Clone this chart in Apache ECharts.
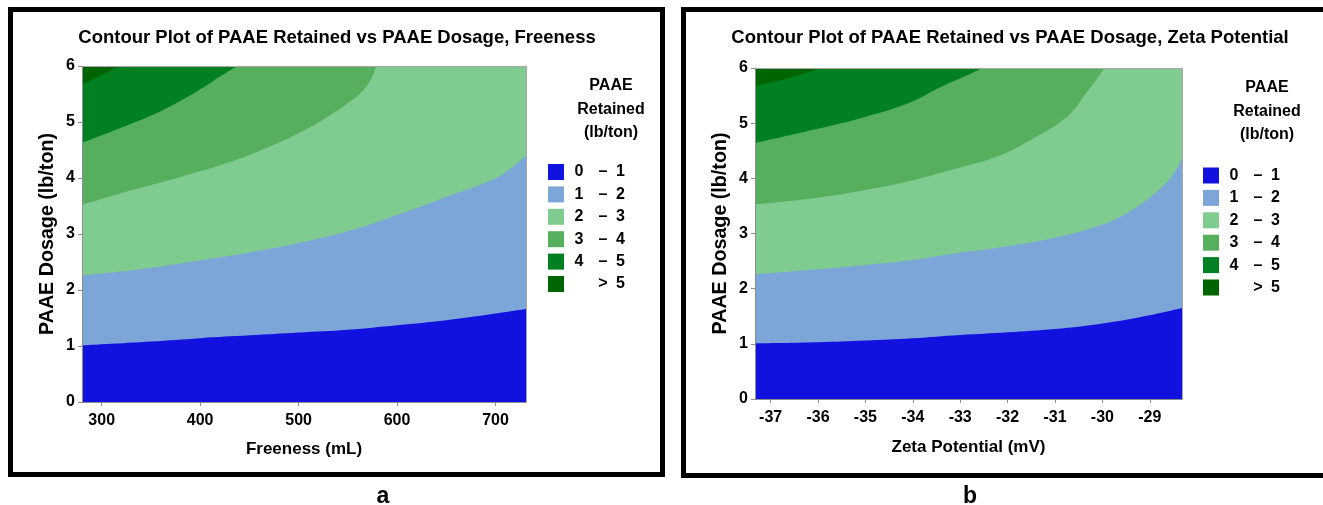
<!DOCTYPE html>
<html>
<head>
<meta charset="utf-8">
<script src="https://cdn.jsdelivr.net/npm/echarts@6/dist/echarts.min.js"></script>
<style>
html,body{margin:0;padding:0;background:#fff;}
#c{width:1323px;height:505px;}
</style>
</head>
<body>
<div id="c"></div>
<script>
// ---------- data ----------
const titles = ['Contour Plot of PAAE Retained vs PAAE Dosage, Freeness',
                'Contour Plot of PAAE Retained vs PAAE Dosage, Zeta Potential'];
const xNames = ['Freeness (mL)', 'Zeta Potential (mV)'];
const yName = 'PAAE Dosage (lb/ton)';
const panelLetters = ['a', 'b'];
const legendTitle = 'PAAE\nRetained\n(lb/ton)';

const freenessRange = [280, 731];
const freenessTicks = [300, 400, 500, 600, 700];
const zetaRange = [-37.33, -28.32];
const zetaTicks = [-37, -36, -35, -34, -33, -32, -31, -30, -29];
const dosageTicks = [0, 1, 2, 3, 4, 5, 6];

const legendLow  = ['0', '1', '2', '3', '4', ''];
const legendSign = ['–', '–', '–', '–', '–', '>'];
const legendHigh = ['1', '2', '3', '4', '5', '5'];
const levelColors = ['#1212E0', '#7DA6D8', '#80CC90', '#55AF5D', '#008020', '#006400'];

// contour boundaries (dosage at which retained = 1,2,3,4,5) vs freeness
const freenessB1 = [[280,1.01],[350,1.08],[400,1.14],[450,1.19],[500,1.24],[550,1.29],[600,1.37],[650,1.46],[700,1.58],[731,1.66]];
const freenessB2 = [[280,2.26],[320,2.33],[360,2.42],[400,2.53],[450,2.67],[500,2.84],[550,3.05],[600,3.34],[650,3.66],[690,3.92],[710,4.10],[731,4.40]];
const freenessB3 = [[280,3.52],[330,3.78],[380,4.02],[431,4.29],[465,4.52],[498,4.78],[532,5.12],[555,5.40],[566,5.57],[574,5.78],[579,6]];
const freenessB4 = [[280,4.63],[330,4.97],[363,5.22],[397,5.55],[421,5.82],[438,6]];
const freenessB5 = [[280,5.67],[298,5.82],[317,6]];

// contour boundaries vs zeta potential
const zetaB1 = [[-37.33,1.01],[-36,1.03],[-35,1.06],[-34,1.10],[-33,1.16],[-32,1.21],[-31,1.27],[-30,1.37],[-29,1.52],[-28.32,1.65]];
const zetaB2 = [[-37.33,2.26],[-36,2.35],[-35,2.43],[-34,2.52],[-33.2,2.63],[-32.15,2.75],[-31.09,2.91],[-30.04,3.15],[-29.33,3.45],[-28.77,3.82],[-28.5,4.08],[-28.32,4.36]];
const zetaB3 = [[-37.33,3.53],[-36,3.65],[-35,3.79],[-34.26,3.91],[-33.2,4.15],[-32.15,4.42],[-31.44,4.73],[-30.74,5.12],[-30.32,5.57],[-30.1,5.82],[-29.95,6]];
const zetaB4 = [[-37.33,4.64],[-36.1,4.88],[-35.1,5.09],[-34.1,5.36],[-33.4,5.66],[-32.9,5.85],[-32.53,6]];
const zetaB5 = [[-37.33,5.68],[-36.6,5.82],[-35.95,6]];

// ---------- build ----------
const FONT = "'Liberation Sans', Arial, sans-serif";
const legendNames = legendLow.map((l, i) => (l ? l + ' ' : '') + legendSign[i] + ' ' + legendHigh[i]);

const panels = [
  {range: freenessRange, ticks: freenessTicks, bounds: [freenessB1, freenessB2, freenessB3, freenessB4, freenessB5],
   grid: {left: 82, top: 66, width: 444, height: 336}, legendPos: {left: 548, top: 164}, legendTitle: {x: 611, y: 74},
   titleX: 337, letterX: 383, xGap: 39},
  {range: zetaRange, ticks: zetaTicks, bounds: [zetaB1, zetaB2, zetaB3, zetaB4, zetaB5],
   grid: {left: 755, top: 68, width: 427, height: 331}, legendPos: {left: 1203, top: 167.5}, legendTitle: {x: 1267, y: 76},
   titleX: 1010, letterX: 970, xGap: 40}
];

const grids = [], xAxes = [], yAxes = [], series = [], legends = [], titleList = [];
const axisGray = '#8c8c8c';
const labelStyle = {color: '#000', fontWeight: 'bold', fontSize: 16, fontFamily: FONT};

panels.forEach((p, pi) => {
  grids.push(Object.assign({containLabel: false}, p.grid));
  xAxes.push({
    gridIndex: pi, type: 'value', min: p.range[0], max: p.range[1], position: 'bottom', z: 10,
    axisLine: {onZero: false, lineStyle: {color: axisGray, width: 1}},
    axisTick: {show: true, length: 4, lineStyle: {color: axisGray}, customValues: p.ticks},
    axisLabel: Object.assign({margin: 11, customValues: p.ticks}, labelStyle),
    splitLine: {show: false},
    name: xNames[pi], nameLocation: 'middle', nameGap: p.xGap,
    nameTextStyle: {color: '#000', fontWeight: 'bold', fontSize: 17, fontFamily: FONT}
  });
  xAxes.push({
    gridIndex: pi, type: 'value', min: p.range[0], max: p.range[1], position: 'top', z: 10,
    axisLine: {onZero: false, lineStyle: {color: '#a8a8a8', width: 1}},
    axisTick: {show: false}, axisLabel: {show: false}, splitLine: {show: false}
  });
  yAxes.push({
    gridIndex: pi, type: 'value', min: 0, max: 6, interval: 1, position: 'left', z: 10,
    axisLine: {show: true, onZero: false, lineStyle: {color: axisGray, width: 1}},
    axisTick: {show: true, length: 4, lineStyle: {color: axisGray}},
    axisLabel: Object.assign({margin: 7, customValues: dosageTicks}, labelStyle),
    splitLine: {show: false},
    name: yName, nameLocation: 'middle', nameGap: 24, nameRotate: 90,
    nameTextStyle: {color: '#000', fontWeight: 'bold', fontSize: 19.7, fontFamily: FONT}
  });
  yAxes.push({
    gridIndex: pi, type: 'value', min: 0, max: 6, position: 'right', z: 10,
    axisLine: {show: true, onZero: false, lineStyle: {color: '#a8a8a8', width: 1}},
    axisTick: {show: false}, axisLabel: {show: false}, splitLine: {show: false}
  });

  const layers = [[[p.range[0], 0], [p.range[1], 0]]].concat(p.bounds);
  layers.forEach((d, k) => {
    series.push({
      type: 'line', name: legendNames[k], xAxisIndex: pi * 2, yAxisIndex: pi * 2,
      data: d, smooth: 0.4, symbol: 'none', showSymbol: false,
      lineStyle: {width: 0, color: levelColors[k]},
      itemStyle: {color: levelColors[k]},
      areaStyle: {color: levelColors[k], opacity: 1, origin: 'end'},
      z: 2 + k, silent: true, animation: false
    });
  });

  legends.push({
    orient: 'vertical', left: p.legendPos.left, top: p.legendPos.top,
    itemWidth: 16, itemHeight: 16, itemGap: 6.4, selectedMode: false, padding: 0,
    icon: 'rect', itemStyle: {borderWidth: 0},
    data: legendNames.map((n, k) => ({name: n, icon: 'rect', itemStyle: {color: levelColors[k], borderWidth: 0}})),
    formatter: function (name) {
      const k = legendNames.indexOf(name);
      return '{a|' + (legendLow[k] || ' ') + '}{b|' + legendSign[k] + '}{c|' + legendHigh[k] + '}';
    },
    textStyle: {
      color: '#000', fontWeight: 'bold', fontSize: 16, fontFamily: FONT, lineHeight: 16,
      rich: {
        a: {width: 20, align: 'right', fontWeight: 'bold', fontSize: 16, fontFamily: FONT, color: '#000'},
        b: {width: 28, align: 'center', fontWeight: 'bold', fontSize: 16, fontFamily: FONT, color: '#000'},
        c: {width: 8, align: 'right', fontWeight: 'bold', fontSize: 16, fontFamily: FONT, color: '#000'}
      }
    }
  });

  titleList.push({
    text: titles[pi], left: p.titleX, top: 28.5, textAlign: 'center', padding: 0,
    textStyle: {color: '#000', fontWeight: 'bold', fontSize: 18.5, fontFamily: FONT}
  });
  titleList.push({
    text: legendTitle, left: p.legendTitle.x, top: p.legendTitle.y, textAlign: 'center', padding: 0,
    textStyle: {color: '#000', fontWeight: 'bold', fontSize: 16, fontFamily: FONT, lineHeight: 23.5}
  });
  titleList.push({
    text: panelLetters[pi], left: p.letterX, top: 485, textAlign: 'center', padding: 0,
    textStyle: {color: '#000', fontWeight: 'bold', fontSize: 23, fontFamily: FONT}
  });
});

const chart = echarts.init(document.getElementById('c'), null, {renderer: 'canvas'});
chart.setOption({
  backgroundColor: '#fff',
  animation: false,
  title: titleList,
  grid: grids,
  xAxis: xAxes,
  yAxis: yAxes,
  legend: legends,
  series: series,
  graphic: [
    {type: 'rect', shape: {x: 10.5, y: 9.5, width: 652, height: 465}, style: {fill: 'none', stroke: '#000', lineWidth: 5}, z: 100, silent: true},
    {type: 'rect', shape: {x: 683.5, y: 9.5, width: 700, height: 466}, style: {fill: 'none', stroke: '#000', lineWidth: 5}, z: 100, silent: true}
  ]
});
</script>
</body>
</html>
